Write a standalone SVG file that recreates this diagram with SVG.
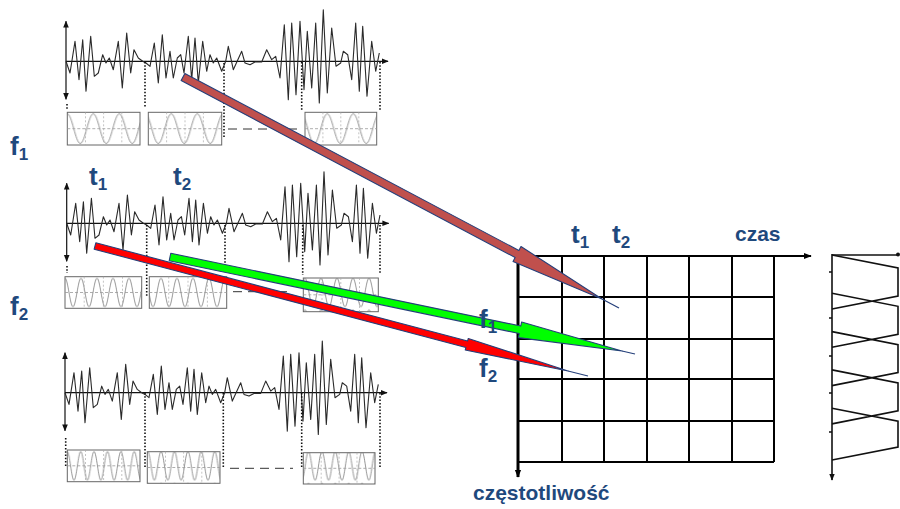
<svg xmlns="http://www.w3.org/2000/svg" width="900" height="509" viewBox="0 0 900 509">
<style>
.lbl{font-family:"Liberation Sans",Arial,sans-serif;font-weight:bold;fill:#1F497D}
.big{font-size:26px}
.sub{font-size:17px}
.ax{font-size:21px}
.wave{fill:none;stroke:#2a2a2a;stroke-width:1.1;stroke-linejoin:round}
.axis{stroke:#111;stroke-width:1.2;fill:none}
.dot{stroke:#111;stroke-width:1.6;stroke-dasharray:1.5 1.8;fill:none}
.box{stroke:#666;stroke-width:1}
.mid{stroke:#999;stroke-width:0.8;stroke-dasharray:3 2}
.vg{stroke:#aaa;stroke-width:0.7;stroke-dasharray:2 2}
.ell{stroke:#333;stroke-width:1;stroke-dasharray:9 6}
.grid{stroke:#000;stroke-width:2;fill:none}
.spec{stroke:#111;stroke-width:1.6;fill:none}
.arr{stroke:#243F7A;stroke-width:1.1;stroke-linejoin:round}
.thin{stroke:#243F7A;stroke-width:1.2}
</style>
<defs>
<marker id="ah" viewBox="0 0 10 10" refX="9" refY="5" markerWidth="8" markerHeight="8" orient="auto-start-reverse" markerUnits="userSpaceOnUse"><path d="M0,1 L10,5 L0,9 z" fill="#000"/></marker>
<marker id="ahs" viewBox="0 0 10 10" refX="9" refY="5" markerWidth="7" markerHeight="7" orient="auto-start-reverse" markerUnits="userSpaceOnUse"><path d="M0,1 L10,5 L0,9 z" fill="#111"/></marker>
<g id="signal">
<line class="axis" x1="0" y1="-40" x2="0" y2="38" marker-start="url(#ahs)" marker-end="url(#ahs)"/>
<line class="axis" x1="0" y1="0" x2="322" y2="0" marker-end="url(#ahs)"/>
<polyline class="wave" points="0,0 4,11.7 9,-20 13,18.4 16.7,-21.6 20,30 24.7,-25 28.3,15 32.3,11.7 36.7,-6.6 40,1.7 43.3,-3.3 47.3,8.4 52.3,-20 56.3,26.7 60.7,-28.3 64.7,11.7 68,-11.6 72.3,-3.3 76.7,0 80,1.7 84,5 88.3,-18.3 92.3,21.7 96.3,-26.6 100,16.7 104,-10 107.3,16.7 111.3,-3.3 114.7,-6.6 118,11.7 122.3,-25 125.7,18.4 129,-23.3 132.3,21.7 136.7,-20 140.7,10 144,-6.6 147.3,1.7 150.7,-3.3 155.7,10 159.7,0 162.3,-15 167.3,8.4 175.7,-10 179,1.7 184,3.4 189,0.7 195.7,0.7 200.7,-11.6 205.7,-1.6 209.7,-5 214,16.7 218.3,-36.6 222.3,38.4 225.7,-38.3 230,33.4 234,-40 238,28.4 241.3,-30 245.7,26.7 249.7,-38.3 253.3,41.7 257.3,-51.6 261.3,31.7 265.7,-33.3 270,5 274.7,1.7 277.3,-10 281.7,-6.6 285.7,18.4 289.7,-38.3 293.3,30 296.7,-35 301,35 305.7,-20 309.7,10 313.3,-8.3"/>
</g>
<pattern id="pt1" patternUnits="userSpaceOnUse" x="67.3" y="112.3" width="26" height="32.7"><path d="M0,1.5 C4.73,1.5 8.27,31.2 13,31.2 C17.73,31.2 21.27,1.5 26,1.5" fill="none" stroke="#888" stroke-width="0.9"/></pattern>
<pattern id="pt2" patternUnits="userSpaceOnUse" x="65" y="276.7" width="16" height="31.6"><path d="M0,1.5 C2.91,1.5 5.09,30.1 8,30.1 C10.91,30.1 13.09,1.5 16,1.5" fill="none" stroke="#888" stroke-width="0.9"/></pattern>
<pattern id="pt3" patternUnits="userSpaceOnUse" x="67.3" y="450" width="13.4" height="31.7"><path d="M0,1.5 C2.44,1.5 4.26,30.2 6.7,30.2 C9.14,30.2 10.96,1.5 13.4,1.5" fill="none" stroke="#888" stroke-width="0.9"/></pattern>
</defs>
<rect width="900" height="509" fill="#fff"/>

<g id="panel-top">
<use href="#signal" transform="translate(66,61.3)"/>
<path class="dot" d="M67,104V110 M145,62V108 M224,63V137 M301.7,62V110 M380,62V110"/>
<rect class="box" x="67.3" y="112.3" width="72.7" height="32.7" fill="url(#pt1)"/>
<rect class="box" x="148.3" y="112.3" width="73.4" height="32.7" fill="url(#pt1)"/>
<rect class="box" x="305" y="112.3" width="71.7" height="32.7" fill="url(#pt1)"/>
<path class="mid" d="M67.3,128.7H140 M148.3,128.7H221.7 M305,128.7H376.7"/>
<path class="vg" d="M85.5,112.3V145 M103.6,112.3V145 M121.8,112.3V145 M166.6,112.3V145 M185,112.3V145 M203.4,112.3V145 M322.9,112.3V145 M340.8,112.3V145 M358.8,112.3V145"/>
<line class="ell" x1="228" y1="129" x2="300" y2="129"/>
</g>

<g id="panel-mid">
<use href="#signal" transform="translate(66.7,223.3)"/>
<path class="dot" d="M67,266V273 M146.7,225V297 M225,225V272 M302.7,225V275 M380,225V273"/>
<rect class="box" x="65" y="276.7" width="76.7" height="31.6" fill="url(#pt2)"/>
<rect class="box" x="149.3" y="276.7" width="77.4" height="31.6" fill="url(#pt2)"/>
<rect class="box" x="303.3" y="278" width="75" height="33.7" fill="url(#pt2)"/>
<path class="mid" d="M65,292.5H141.7 M149.3,292.5H226.7 M303.3,294.8H378.3"/>
<path class="vg" d="M84.2,276.7V308.3 M103.4,276.7V308.3 M122.5,276.7V308.3 M168.7,276.7V308.3 M188,276.7V308.3 M207.4,276.7V308.3 M322,278V311.7 M340.8,278V311.7 M359.5,278V311.7"/>
<line class="ell" x1="233" y1="291.7" x2="293" y2="291.7"/>
</g>

<g id="panel-bot">
<use href="#signal" transform="translate(65,392.7)"/>
<path class="dot" d="M65.7,438V467 M145,393V467 M223.3,393V467 M301.7,393V467 M380,393V467"/>
<rect class="box" x="67.3" y="450" width="72.7" height="31.7" fill="url(#pt3)"/>
<rect class="box" x="147.3" y="451.7" width="72.7" height="31.6" fill="url(#pt3)"/>
<rect class="box" x="303.3" y="452.7" width="71.7" height="31.3" fill="url(#pt3)"/>
<path class="mid" d="M67.3,465.8H140 M147.3,467.5H220 M303.3,468.3H375"/>
<path class="vg" d="M85.5,450V481.7 M103.6,450V481.7 M121.8,450V481.7 M165.5,451.7V483.3 M183.6,451.7V483.3 M201.8,451.7V483.3 M321.2,452.7V484 M339.1,452.7V484 M357,452.7V484"/>
<line class="ell" x1="230" y1="468.3" x2="293" y2="468.3"/>
</g>

<g id="tf-grid">
<path class="grid" d="M518,297H774 M518,339H774 M518,379H774 M518,421H774 M518,462H774 M562,256V462 M604,256V462 M647,256V462 M689,256V462 M732,256V462 M774,256V462"/>
<line x1="518" y1="256" x2="811" y2="256" stroke="#000" stroke-width="2" marker-end="url(#ah)"/>
<line x1="518" y1="255" x2="518" y2="477" stroke="#000" stroke-width="3" marker-end="url(#ah)"/>
</g>

<g id="spectrum">
<path class="spec" d="M832,255H898"/>
<circle cx="898" cy="254.5" r="2" fill="#111"/>
<line x1="832" y1="254" x2="832" y2="480" stroke="#111" stroke-width="1.6" marker-end="url(#ahs)"/>
<path class="spec" d="M829,272H832 M829,318H832 M829,356H832 M829,393H832 M829,432H832"/>
<path class="spec" d="M832,255L898,268V296L832,309 M832,293.3L898,306.3V334.3L832,347.3 M832,331.6L898,344.6V372.6L832,385.6 M832,369.9L898,382.9V410.9L832,423.9 M832,408.2L898,421.2V447L832,460"/>
</g>

<g id="connectors">
<polygon class="arr" fill="#C0504D" points="184.87,73.47 518.87,250.45 520.98,246.47 602,299 513.02,261.49 515.13,257.51 181.13,80.53"/>
<line class="thin" x1="602" y1="299" x2="619" y2="308"/>
<polygon class="arr" fill="#00FF00" points="170.77,253.28 520.78,326.07 521.64,321.96 622,351 518.38,337.62 519.24,333.51 169.23,260.72"/>
<line class="thin" x1="622" y1="351" x2="635" y2="354"/>
<polygon class="arr" fill="#FF0000" points="95.84,242.81 467.58,341.05 468.27,338.44 568,371 465.21,350.04 465.90,347.43 94.16,249.19"/>
<line class="thin" x1="568" y1="371" x2="588" y2="376"/>
</g>

<g id="labels">
<text class="lbl big" x="10" y="155">f<tspan class="sub" dy="5">1</tspan></text>
<text class="lbl big" x="10" y="315">f<tspan class="sub" dy="5">2</tspan></text>
<text class="lbl big" x="89" y="185">t<tspan class="sub" dy="5">1</tspan></text>
<text class="lbl big" x="173" y="185">t<tspan class="sub" dy="5">2</tspan></text>
<text class="lbl big" x="571" y="243">t<tspan class="sub" dy="5">1</tspan></text>
<text class="lbl big" x="612" y="243">t<tspan class="sub" dy="5">2</tspan></text>
<text class="lbl ax" x="735" y="241">czas</text>
<text class="lbl ax" x="473" y="500">częstotliwość</text>
<text class="lbl big" x="479" y="328">f<tspan class="sub" dy="5">1</tspan></text>
<text class="lbl big" x="479" y="377">f<tspan class="sub" dy="5">2</tspan></text>
</g>
</svg>
